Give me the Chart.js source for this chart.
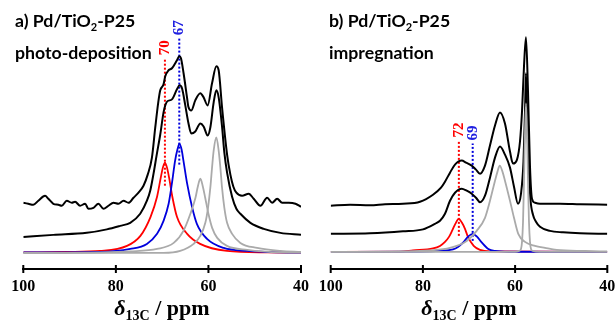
<!DOCTYPE html>
<html><head><meta charset="utf-8">
<script src="https://cdn.jsdelivr.net/npm/chart.js@4.4.0/dist/chart.umd.min.js"></script>
<style>
html,body{margin:0;padding:0;background:#fff;overflow:hidden;width:615px;height:326px;position:relative;}
.cv{position:absolute;top:0;}
.lbl{position:absolute;font-family:Lato,'Open Sans',sans-serif;font-weight:bold;font-size:17.7px;line-height:17px;color:#000;white-space:nowrap;}
.lbl sub{font-size:11px;vertical-align:-4px;line-height:0;}
.ax{position:absolute;font-family:'Liberation Serif',serif;font-weight:bold;font-size:22px;line-height:22px;color:#000;white-space:nowrap;transform:translateX(-50%);}
.ax i{font-weight:bold;}
.ax sub{font-size:14px;vertical-align:-5px;line-height:0;}
</style></head><body>
<canvas id="ca" class="cv" width="330" height="326" style="left:0px"></canvas>
<canvas id="cb" class="cv" width="330" height="326" style="left:300px"></canvas>
<div class="lbl" style="left:15px;top:12px">a) Pd/TiO<sub>2</sub>-P25</div>
<div class="lbl" style="left:15px;top:44px">photo-deposition</div>
<div class="lbl" style="left:329px;top:12px">b) Pd/TiO<sub>2</sub>-P25</div>
<div class="lbl" style="left:329px;top:44px">impregnation</div>
<div class="ax" style="left:162px;top:297px"><i>δ</i><sub>13C</sub> / ppm</div>
<div class="ax" style="left:469px;top:297px"><i>δ</i><sub>13C</sub> / ppm</div>
<script>
// ---------- shared ----------
const tickValues = [100, 80, 60, 40];

// ---------- panel a) photo-deposition ----------
const expA_ppm = [100,98.92,97.84,96.75,95.30,94.59,93.51,92.42,91.69,90.61,89.52,88.81,87.73,86.65,85.93,84.85,83.77,82.68,81.60,80.52,79.44,78.35,77.27,76.19,75.11,74.03,73.12,72.21,71.49,70.84,70.41,69.70,69.33,68.61,67.88,66.80,66.30,65.93,65.37,64.63,64.35,63.70,62.84,61.75,61.04,60.17,59.22,58.29,57.79,57.06,55.97,55.26,54.61,53.96,52.73,51.30,50.22,48.77,47.32,46.23,45.15,44.07,42.64,41.19,40];
const expA_val = [50,49,48,52,57,54,49,48,47,52,50,51,47,49,44,45,49,44,47,50,49,52,50,55,60,67,78,95,125,150,162,168,176,182,184,192,196,194,179,155,146,142,152,159,155,147,169,186,182,145,98,78,66,60,57,59,54,47,55,50,54,50,50,49,46];

const fitA_ppm = [100,93.51,86.28,81.95,79.07,76.90,74.74,73.29,72.58,71.86,71.17,70.41,69.70,69.33,68.90,67.88,66.80,66.23,65.71,65.00,64.35,63.70,62.84,61.75,61.04,60.17,59.59,58.87,58.29,57.79,57.06,56.56,55.97,54.89,53.96,53.10,50.93,48.05,44.44,40];
const fitA_val = [16,18,20,23.5,27,30,39,52,62,79,98,118,140,147,151,153,163,167,164,147,130,119,121,129,126,117,125,150,162,155,126,100,80,56,44,39,30,24,20,18];

const redA_ppm = [100,90.61,83.4,77.6,74.7,72.5,71.1,70.3,69.85,69.4,68.95,68.5,67.8,66.8,64.6,61.8,56.0,47.3,40];
const redA_val = [0.5,1,2,7,17,36,56,75,85,90,85,75,56,36,19,9,2,0.5,0.3];

const blueA_ppm = [100,83.4,76.9,73.3,71.1,69.7,68.6,67.9,67.2,66.7,66.25,65.8,65.4,64.6,63.5,62.5,60.3,56.7,51.6,44.4,40];
const blueA_val = [0.5,1,4,9,19,32,49,69,92,103,109,103,92,69,45,29,14,5,2,0.5,0.3];

const gray1A_ppm = [100,83.4,76.9,71.1,67.5,65.4,63.9,62.8,62.3,61.75,61.2,60.7,60.0,59.2,58.1,56.0,51.6,44.4,40];
const gray1A_val = [0,0.5,1.5,4,10,22,39,55,66,74,66,55,39,25,15,7,3,0.5,0.3];

const gray2A_ppm = [100,69.7,66.1,63.2,61.75,60.67,60.09,59.59,59.22,58.87,58.29,57.79,57.42,57.06,56.56,55.97,54.89,53.10,49.48,44.44,40];
const gray2A_val = [0,0,2,9,17,30,45,65,85,102,115,102,85,65,45,30,19,10,5,2,1];

const peakA_ppm = [69.4, 66.3];
const peakA_text = ['70', '67'];
const peakA_top = [194, 214];
const peakA_bottom = [67, 88];

// ---------- panel b) impregnation ----------
const expB_ppm = [100,95.81,91.48,88.22,84.32,80.63,77.81,76.07,75.21,74.12,73.04,71.58,70.65,69.41,68.48,67.61,66.53,65.45,64.36,63.28,62.20,61.11,60.46,59.59,58.94,58.50,58.07,57.64,57.20,56.77,56.34,55.68,54.60,50.26,45.92,40];
const expB_val = [46,47,46.5,47.5,48,50,57,64,70,79,87,91,89,86,82,78,86,106,126,139,128,100,88,92,110,140,185,214,160,85,53,49,48,48,47.5,47];

const fitB_ppm = [100,91.48,84.32,79.98,77.38,76.29,75.21,74.12,73.04,71.58,70.50,69.41,68.48,67.61,66.53,65.45,64.36,63.28,62.20,61.11,60.24,59.37,58.72,58.18,57.85,57.64,57.42,57.09,56.66,56.12,55.47,54.60,52.43,49.61,45.92,40];
const fitB_val = [18,18.5,20.5,22.5,28,31,38,51,59,63,61,58,54,49.5,56,74,94,105,97,84,65,48,58,90,140,178,140,90,52,37,30,25,21,19.5,18.5,18];

const redB_ppm = [100,84.97,82.15,77.81,76.29,75.21,74.34,73.58,72.97,72.23,71.52,70.87,70.22,68.98,67.61,65.45,40];
const redB_val = [0,0.3,1.5,3.5,6,10,15,22,28,33,29,23,15,6,2,0.5,0];

const blueB_ppm = [100,80.63,76.29,73.47,72.39,71.24,70.15,69.20,68.33,67.25,65.81,64.36,61.11,40];
const blueB_val = [0,0.3,1,2.5,5,9.5,15.5,18,15.5,9.5,3,1,0.2,0];

const gray1B_ppm = [100,84.97,78.46,74.12,70.50,68.33,66.53,65.45,64.36,63.82,63.34,62.74,62.20,61.11,60.24,59.31,57.85,55.68,53.51,50.98,44.84,40];
const gray1B_val = [0,0.5,1.5,4,11,21,34,51,71,80,86,80,71,51,34,18,10,6,4,2,1,0.5];

const gray2B_ppm = [100,60.02,59.15,58.72,58.50,58.28,58.07,57.85,57.64,57.42,57.20,56.99,56.77,56.55,56.12,54.60,40];
const gray2B_val = [0,0,1,3,10,30,70,120,148,120,70,30,10,3,1,0,0];

const peakB_ppm = [72.2, 69.2];
const peakB_text = ['72', '69'];
const peakB_top = [111, 108];
const peakB_bottom = [16, 11];

// ---------- builders ----------
const RED = '#ff0000', BLUE = '#0000dd', GRAY = '#aaaaaa', BLACK = '#000000';
const zip = (xs, ys) => xs.map((x, i) => ({x: x, y: ys[i]}));
function curve(xs, ys, color, w) {
  return {data: zip(xs, ys), borderColor: color, borderWidth: w, pointRadius: 0,
          fill: false, cubicInterpolationMode: 'monotone'};
}
function dotted(ppm, bot, top, color) {
  return {data: [{x: ppm, y: bot}, {x: ppm, y: top}], borderColor: color, borderWidth: 2,
          borderDash: [2, 2], pointRadius: 0, fill: false, tension: 0};
}

const axisPlugin = {
  id: 'axisDeco',
  afterDraw(chart) {
    const ctx = chart.ctx, xs = chart.scales.x, ys = chart.scales.y;
    const yb = chart.chartArea.bottom;
    ctx.save();
    ctx.strokeStyle = '#000'; ctx.lineWidth = 2;
    tickValues.forEach(v => {
      const px = xs.getPixelForValue(v);
      ctx.beginPath(); ctx.moveTo(px, yb - 4); ctx.lineTo(px, yb + 4); ctx.stroke();
    });
    const pk = chart.options.plugins.axisDeco;
    ctx.font = 'bold 15px "Liberation Serif", serif';
    ctx.textAlign = 'left'; ctx.textBaseline = 'middle';
    pk.ppm.forEach((p, i) => {
      const px = xs.getPixelForValue(p), py = ys.getPixelForValue(pk.top[i]) - 3;
      ctx.save(); ctx.translate(px, py); ctx.rotate(-Math.PI / 2);
      ctx.fillStyle = pk.colors[i]; ctx.fillText(pk.text[i], 0, 0);
      ctx.restore();
    });
    ctx.restore();
  }
};

function makeChart(id, yMin, yMax, padL, padR, sets, peaks) {
  return new Chart(document.getElementById(id), {
    type: 'line',
    data: {datasets: sets},
    options: {
      responsive: false, animation: false, normalized: true,
      layout: {padding: {left: padL, right: padR, top: 0, bottom: 21.8}},
      plugins: {legend: {display: false}, tooltip: {enabled: false}, axisDeco: peaks},
      scales: {
        x: {type: 'linear', min: 40, max: 100, reverse: true,
            grid: {display: false, drawTicks: false},
            border: {display: true, color: '#000', width: 2},
            afterBuildTicks: s => { s.ticks = tickValues.map(v => ({value: v})); },
            ticks: {color: '#000', padding: 8, maxRotation: 0,
                    font: {family: '"Liberation Serif", serif', weight: 'bold', size: 16}}},
        y: {type: 'linear', display: false, min: yMin, max: yMax}
      }
    },
    plugins: [axisPlugin]
  });
}

makeChart('ca', -16, 252, 23.3, 29, [
  curve(gray1A_ppm, gray1A_val, GRAY, 1.8),
  curve(gray2A_ppm, gray2A_val, GRAY, 1.8),
  curve(blueA_ppm, blueA_val, BLUE, 1.8),
  curve(redA_ppm, redA_val, RED, 1.8),
  curve(fitA_ppm, fitA_val, BLACK, 2),
  curve(expA_ppm, expA_val, BLACK, 2),
  dotted(peakA_ppm[0], peakA_bottom[0], peakA_top[0], RED),
  dotted(peakA_ppm[1], peakA_bottom[1], peakA_top[1], BLUE)
], {ppm: peakA_ppm, text: peakA_text, top: peakA_top, colors: [RED, '#2020e0']});

makeChart('cb', -17, 251, 30.7, 22.7, [
  curve(gray1B_ppm, gray1B_val, GRAY, 1.8),
  curve(gray2B_ppm, gray2B_val, GRAY, 1.8),
  curve(blueB_ppm, blueB_val, BLUE, 1.8),
  curve(redB_ppm, redB_val, RED, 1.8),
  curve(fitB_ppm, fitB_val, BLACK, 2),
  curve(expB_ppm, expB_val, BLACK, 2),
  dotted(peakB_ppm[0], peakB_bottom[0], peakB_top[0], RED),
  dotted(peakB_ppm[1], peakB_bottom[1], peakB_top[1], BLUE)
], {ppm: peakB_ppm, text: peakB_text, top: peakB_top, colors: [RED, '#2020e0']});
</script>
</body></html>
